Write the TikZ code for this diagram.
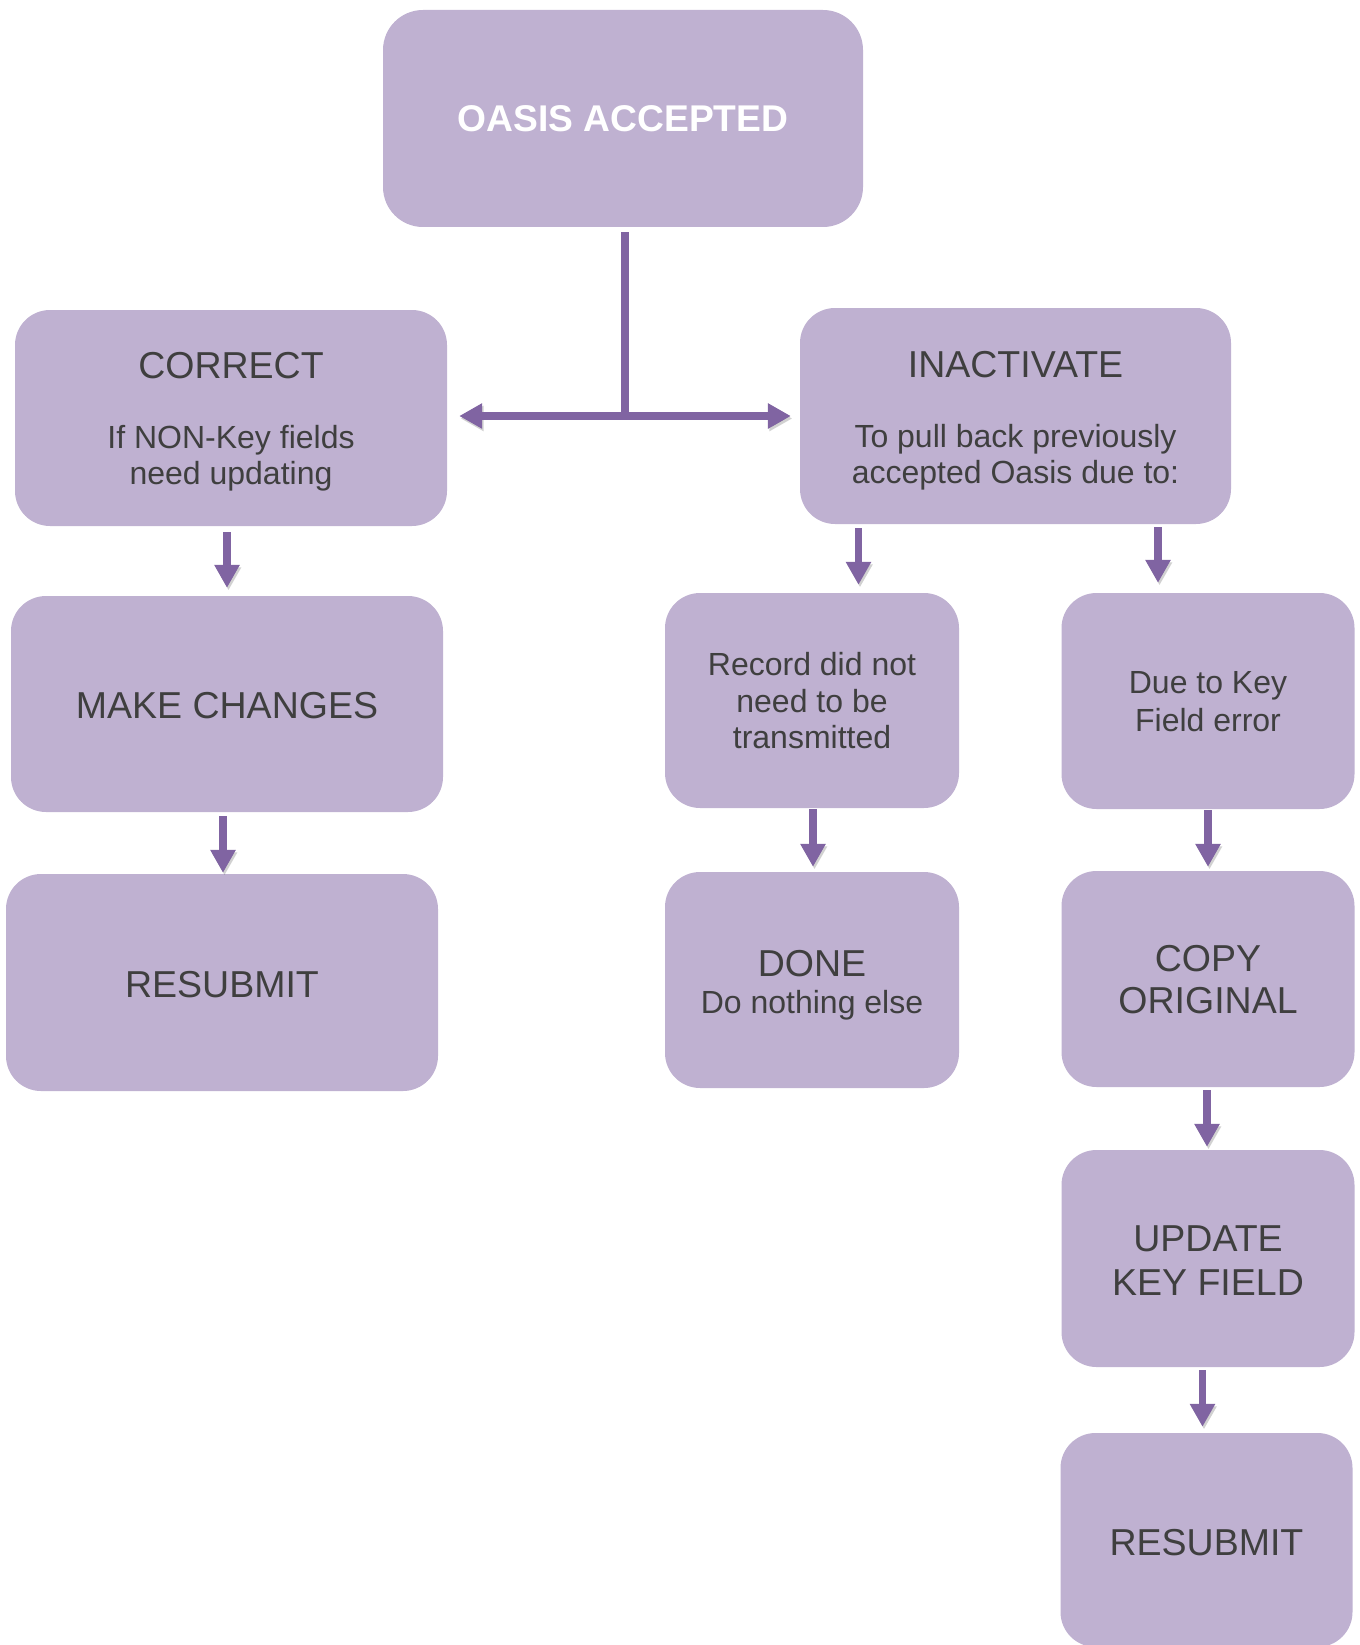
\documentclass[tikz,border=0pt]{standalone}
\usepackage{fontspec}
\setmainfont{Liberation Sans}
\usetikzlibrary{arrows.meta}
\definecolor{boxfill}{HTML}{BFB1D1}
\definecolor{arrowc}{HTML}{8064A2}
\definecolor{txtc}{HTML}{3F3F3F}
\newcommand\FntL{\fontsize{37.5}{44}\selectfont}
\newcommand\FntS{\fontsize{32}{37}\selectfont}
\newcommand\FntB{\fontsize{37.2}{44}\selectfont\bfseries}
\tikzset{
  box/.style={rectangle, rounded corners=35pt, fill=boxfill, draw=none, inner sep=0pt},
  lt/.style={anchor=base, inner sep=0pt, text=txtc, font=\FntL},
  st/.style={anchor=base, inner sep=0pt, text=txtc, font=\FntS},
  conn/.style={draw=arrowc, line width=7.5pt,
    preaction={draw=black, opacity=0.18, transform canvas={xshift=1.5pt,yshift=-2.5pt}}},
  arr/.style={conn, -{Triangle[width=24pt,length=23pt]}}
}
\begin{document}
\begin{tikzpicture}[x=1pt,y=-1pt]
\useasboundingbox (0,0) rectangle (1359,1645);
% boxes
\node[box, rounded corners=40pt, minimum width=480pt, minimum height=217pt] (oasis) at (623,118.5) {};
\node[box, minimum width=432pt, minimum height=216pt] (correct) at (231,418) {};
\node[box, minimum width=431pt, minimum height=216pt] (inact) at (1015.5,416) {};
\node[box, minimum width=432pt, minimum height=216pt] (make) at (227,704) {};
\node[box, minimum width=432pt, minimum height=217pt] (resubA) at (222,982.5) {};
\node[box, minimum width=294pt, minimum height=215pt] (rec) at (812,700.5) {};
\node[box, minimum width=293pt, minimum height=216pt] (due) at (1208,701) {};
\node[box, minimum width=294pt, minimum height=216pt] (done) at (812,980) {};
\node[box, minimum width=293pt, minimum height=216pt] (copy) at (1208,979) {};
\node[box, minimum width=293pt, minimum height=217pt] (update) at (1208,1258.5) {};
\node[box, minimum width=292pt, minimum height=214pt] (resubB) at (1206.5,1540) {};
% texts
\node[anchor=base, inner sep=0pt, text=white, font=\FntB] (t-oasis) at (623,132) {OASIS ACCEPTED};
\node[lt] (t-cor1) at (231,378) {CORRECT};
\node[st] (t-cor2) at (231,448) {If NON-Key fields};
\node[st] (t-cor3) at (231,484) {need updating};
\node[lt] (t-ina1) at (1015.5,377) {INACTIVATE};
\node[st] (t-ina2) at (1015.5,447) {To pull back previously};
\node[st] (t-ina3) at (1015.5,483) {accepted Oasis due to:};
\node[lt] (t-make) at (227,718) {MAKE CHANGES};
\node[lt] (t-resA) at (222,997) {RESUBMIT};
\node[st] (t-rec1) at (812,675) {Record did not};
\node[st] (t-rec2) at (812,712) {need to be};
\node[st] (t-rec3) at (812,748) {transmitted};
\node[st] (t-due1) at (1208,693) {Due to Key};
\node[st] (t-due2) at (1208,731) {Field error};
\node[lt] (t-done1) at (812,976) {DONE};
\node[st] (t-done2) at (812,1013) {Do nothing else};
\node[lt] (t-copy1) at (1208,971) {COPY};
\node[lt] (t-copy2) at (1208,1013) {ORIGINAL};
\node[lt] (t-upd1) at (1208,1251) {UPDATE};
\node[lt] (t-upd2) at (1208,1295) {KEY FIELD};
\node[lt] (t-resB) at (1206.5,1555) {RESUBMIT};
% connectors
\coordinate (j) at (625,416);
\draw[conn, shorten <=5pt] (oasis.south -| j) -- (j);
\draw[arr, shorten >=12pt] (j) -- (j -| correct.east);
\draw[arr, shorten >=9pt] (j) -- (j -| inact.west);
\draw[arr, shorten <=6pt, shorten >=8pt] (correct.south -| make.north) -- (make.north);
\draw[arr, shorten <=4pt, shorten >=1pt] ([xshift=1pt]make.south -| resubA.north) -- ([xshift=1pt]resubA.north);
\draw[arr, shorten <=4pt, shorten >=8pt] ([xshift=46.5pt]rec.north |- inact.south) -- ([xshift=46.5pt]rec.north);
\draw[arr, shorten <=3pt, shorten >=10pt] ([xshift=-50pt]due.north |- inact.south) -- ([xshift=-50pt]due.north);
\draw[arr, shorten <=1pt, shorten >=5pt] ([xshift=1pt]rec.south) -- ([xshift=1pt]done.north);
\draw[arr, shorten <=1pt, shorten >=4pt] (due.south) -- (copy.north);
\draw[arr, shorten <=3pt, shorten >=3pt] ([xshift=-1pt]copy.south) -- ([xshift=-1pt]copy.south |- update.north);
\draw[arr, shorten <=3pt, shorten >=6pt] ([xshift=-4pt]resubB.north |- update.south) -- ([xshift=-4pt]resubB.north);
\end{tikzpicture}
\end{document}
